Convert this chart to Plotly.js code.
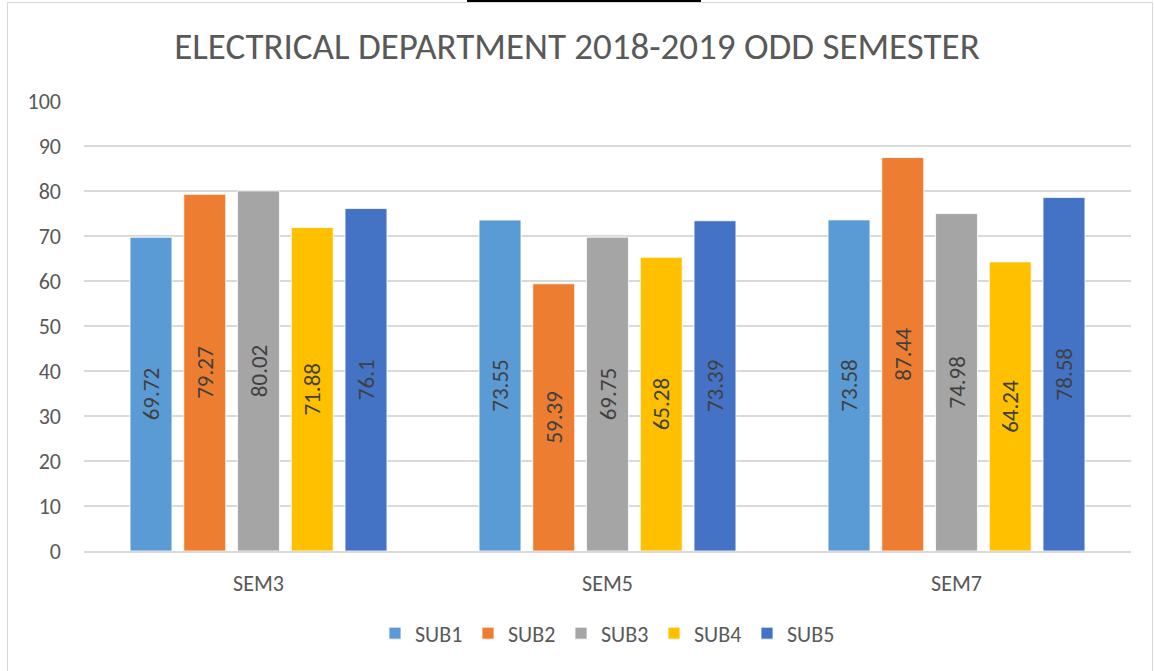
<!DOCTYPE html>
<html><head><meta charset="utf-8">
<script src="https://cdn.plot.ly/plotly-3.0.1.min.js"></script>
<style>
html,body{margin:0;padding:0;background:#fff;}
#wrap{position:relative;width:1154px;height:671px;}
#chart{position:absolute;left:0;top:0;width:1154px;height:671px;}
#frame{position:absolute;left:7px;top:2px;width:1146px;height:680px;border:1px solid #d9d9d9;box-sizing:border-box;pointer-events:none;}
#blk{position:absolute;left:467px;top:0;width:234px;height:2px;background:#000;}
</style></head>
<body><div id="wrap"><div id="chart"></div><div id="frame"></div><div id="blk"></div></div>
<script>
const categories = ["SEM3", "SEM5", "SEM7"];
const seriesNames = ["SUB1", "SUB2", "SUB3", "SUB4", "SUB5"];
const sub1 = [69.72, 73.55, 73.58];
const sub2 = [79.27, 59.39, 87.44];
const sub3 = [80.02, 69.75, 74.98];
const sub4 = [71.88, 65.28, 64.24];
const sub5 = [76.1, 73.39, 78.58];
const yTicks = [0,10,20,30,40,50,60,70,80,90,100];

const colors = ["#5B9BD5", "#ED7D31", "#A5A5A5", "#FFC000", "#4472C4"];
const values = [sub1, sub2, sub3, sub4, sub5];
const FONT = "Carlito, 'Liberation Sans Narrow', 'Open Sans', sans-serif";

const traces = values.map((v, i) => ({
  type: 'bar', name: seriesNames[i], x: categories, y: v,
  marker: {color: colors[i], line: {color: '#ffffff', width: 0.8}},
  text: v.map(String), textposition: 'inside', insidetextanchor: 'middle',
  textangle: -90, constraintext: 'none',
  textfont: {family: FONT, size: 23, color: '#404040'},
  hoverinfo: 'skip'
}));

const layout = {
  width: 1154, height: 671,
  margin: {l: 84, r: 23, t: 101, b: 120},
  paper_bgcolor: '#ffffff', plot_bgcolor: '#ffffff',
  title: {text: 'ELECTRICAL DEPARTMENT 2018-2019 ODD SEMESTER',
    font: {family: FONT, size: 37, color: '#595959'},
    x: 0.5, xanchor: 'center', y: 0.932, yanchor: 'middle'},
  barmode: 'group', bargap: 0.23, bargroupgap: 0.22,
  xaxis: {type: 'category', showgrid: false, showline: true, linecolor: '#d9d9d9', linewidth: 1.5,
    ticks: '', tickfont: {family: FONT, size: 22, color: '#595959'}, ticklabelstandoff: 12},
  yaxis: {range: [0, 100], tickvals: yTicks, ticktext: yTicks.map(String),
    showgrid: true, gridcolor: '#d9d9d9', gridwidth: 1.5, zeroline: false, showline: false,
    ticks: '', tickfont: {family: FONT, size: 22, color: '#595959'}, ticklabelstandoff: 22},
  showlegend: true,
  legend: {orientation: 'h', x: 0.5, xanchor: 'center', y: -0.183, yanchor: 'middle',
    font: {family: FONT, size: 22, color: '#595959'}, itemwidth: 30, entrywidth: 48, traceorder: 'normal'}
};
Plotly.newPlot('chart', traces, layout, {displayModeBar: false, staticPlot: true});
</script></body></html>
